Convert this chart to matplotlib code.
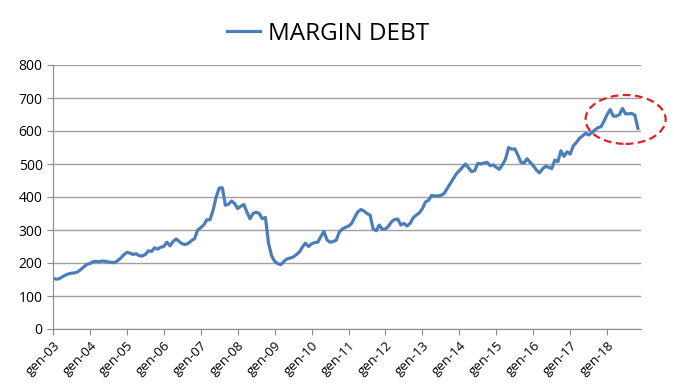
import numpy as np
import matplotlib
matplotlib.use("Agg")
import matplotlib.pyplot as plt
from matplotlib.patches import Ellipse

plt.rcParams['font.family'] = ['Open Sans', 'DejaVu Sans']

# monthly margin debt, Jan 2003 .. Nov 2018
y2003 = [154, 151, 152, 158, 163, 167, 169, 170, 173, 180, 188, 196]
y2004 = [198, 204, 205, 204, 206, 205, 203, 202, 201, 207, 215, 225]
y2005 = [232, 230, 226, 228, 222, 221, 226, 237, 235, 246, 242, 248]
y2006 = [250, 263, 252, 265, 273, 265, 258, 256, 260, 268, 274, 300]
y2007 = [307, 316, 331, 331, 360, 400, 427, 428, 375, 378, 388, 380]
y2008 = [365, 372, 377, 354, 334, 350, 354, 350, 334, 338, 260, 222]
y2009 = [205, 198, 195, 205, 212, 215, 218, 225, 233, 248, 260, 250]
y2010 = [258, 262, 263, 280, 296, 270, 263, 265, 269, 294, 303, 308]
y2011 = [312, 320, 338, 355, 362, 358, 350, 345, 303, 298, 315, 302]
y2012 = [303, 312, 325, 332, 333, 315, 320, 312, 320, 337, 345, 352]
y2013 = [365, 385, 390, 405, 403, 403, 405, 410, 425, 440, 455, 470]
y2014 = [480, 490, 500, 488, 477, 480, 502, 500, 503, 505, 495, 497]
y2015 = [490, 484, 498, 515, 550, 545, 546, 527, 505, 503, 516, 505]
y2016 = [495, 482, 473, 485, 493, 490, 486, 512, 507, 540, 523, 537]
y2017 = [530, 555, 565, 578, 585, 593, 588, 595, 603, 610, 613, 630]
y2018 = [650, 665, 645, 645, 650, 668, 652, 652, 653, 648, 608]

margin_debt = (y2003 + y2004 + y2005 + y2006 + y2007 + y2008 + y2009 + y2010
               + y2011 + y2012 + y2013 + y2014 + y2015 + y2016 + y2017 + y2018)
tick_labels = ['gen-%02d' % y for y in range(3, 19)]

months = np.arange(len(margin_debt))

fig = plt.figure(figsize=(6.74, 3.9), dpi=100)
ax = fig.add_axes([53 / 674, 61 / 390, 588 / 674, 264 / 390])

ax.plot(months, margin_debt, color='#4a7ebb', lw=2.3, label='MARGIN DEBT',
        solid_joinstyle='round')

# highlight the recent peak
ell = Ellipse((186, 635), 26, 148, fill=False, ec='#e02020', lw=1.6,
              ls=(0, (3.5, 2)), clip_on=False)
ax.add_patch(ell)

ax.set_xlim(0, 191)
ax.set_ylim(0, 800)
ax.set_yticks(range(0, 801, 100))
ax.set_xticks(range(0, 181, 12))
ax.set_xticklabels(tick_labels, rotation=45, ha='right', rotation_mode='anchor')
ax.tick_params(axis='both', labelsize=10, length=4, color='#8c8c8c')
ax.tick_params(axis='x', labelsize=9.5, pad=3)

ax.grid(axis='y', color='#a0a0a0', lw=1)
ax.set_axisbelow(True)
for s in ['top', 'right']:
    ax.spines[s].set_visible(False)
for s in ['left', 'bottom']:
    ax.spines[s].set_color('#8c8c8c')

fig.legend(loc='upper center', bbox_to_anchor=(0.487, 1.0), frameon=False,
           fontsize=17.5, handlelength=1.35, handletextpad=0.35)

fig.savefig('out.png', dpi=100)
